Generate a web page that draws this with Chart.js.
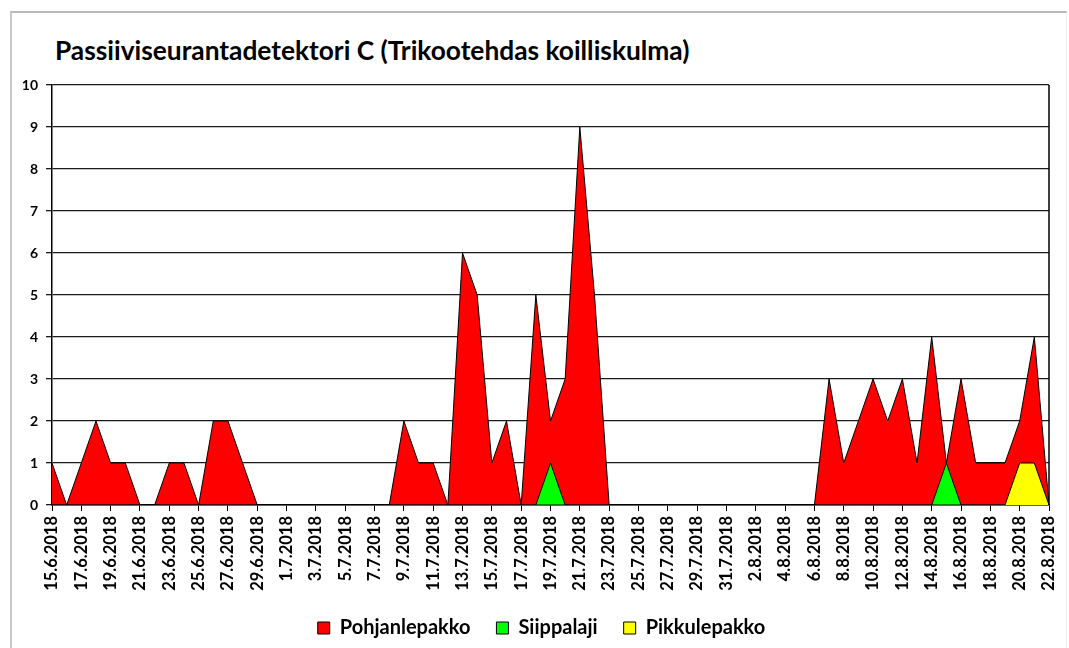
<!DOCTYPE html>
<html lang="fi">
<head>
<meta charset="UTF-8">
<title>Passiiviseurantadetektori C</title>
<script src="https://cdn.jsdelivr.net/npm/chart.js"></script>
<style>
    body { margin: 0; background: #fff; font-family: Lato, sans-serif; }
    #wrap { position: relative; width: 1069px; height: 648px; overflow: hidden; }
    #frame {
        position: absolute; left: 10px; top: 11px; right: 2px; bottom: -5px;
        border-left: 2px solid #c9c9c9; border-top: 2px solid #b8b8b8; border-right: 1px solid #eee;
    }
    #title {
        position: absolute; left: 55px; top: 34px;
        font: bold 26.3px Lato, sans-serif; color: #000; white-space: nowrap;
    }
    canvas { position: absolute; left: 0; top: 0; }
</style>
</head>
<body>
<div id="wrap">
    <div id="frame"></div>
    <div id="title">Passiiviseurantadetektori C (Trikootehdas koilliskulma)</div>
    <canvas id="graph" width="1069" height="648"></canvas>
</div>
<script>
    const days = [
        '15.6.2018','16.6.2018','17.6.2018','18.6.2018','19.6.2018','20.6.2018','21.6.2018','22.6.2018',
        '23.6.2018','24.6.2018','25.6.2018','26.6.2018','27.6.2018','28.6.2018','29.6.2018','30.6.2018',
        '1.7.2018','2.7.2018','3.7.2018','4.7.2018','5.7.2018','6.7.2018','7.7.2018',
        '8.7.2018','9.7.2018','10.7.2018','11.7.2018','12.7.2018','13.7.2018','14.7.2018','15.7.2018',
        '16.7.2018','17.7.2018','18.7.2018','19.7.2018','20.7.2018','21.7.2018','22.7.2018','23.7.2018',
        '24.7.2018','25.7.2018','26.7.2018','27.7.2018','28.7.2018','29.7.2018','30.7.2018','31.7.2018',
        '1.8.2018','2.8.2018','3.8.2018','4.8.2018','5.8.2018',
        '6.8.2018','7.8.2018','8.8.2018','9.8.2018','10.8.2018','11.8.2018','12.8.2018','13.8.2018',
        '14.8.2018','15.8.2018','16.8.2018','17.8.2018','18.8.2018','19.8.2018','20.8.2018','21.8.2018','22.8.2018'
    ];

    const pohjanlepakko = [
        1,0,1,2,1,1,0,0,1,1,0,2,2,1,0,0,
        0,0,0,0,0,0,0,
        0,2,1,1,0,6,5,1,2,0,5,2,3,9,5,0,
        0,0,0,0,0,0,0,0,0,0,0,0,0,
        0,3,1,2,3,2,3,1,4,1,3,1,1,1,2,4,0
    ];
    const siippalaji = [
        0,0,0,0,0,0,0,0,0,0,0,0,0,0,0,0,
        0,0,0,0,0,0,0,
        0,0,0,0,0,0,0,0,0,0,0,1,0,0,0,0,
        0,0,0,0,0,0,0,0,0,0,0,0,0,
        0,0,0,0,0,0,0,0,0,1,0,0,0,0,0,0,0
    ];
    const pikkulepakko = [
        0,0,0,0,0,0,0,0,0,0,0,0,0,0,0,0,
        0,0,0,0,0,0,0,
        0,0,0,0,0,0,0,0,0,0,0,0,0,0,0,0,
        0,0,0,0,0,0,0,0,0,0,0,0,0,
        0,0,0,0,0,0,0,0,0,0,0,0,0,0,1,1,0
    ];
    const yTicks = [0,1,2,3,4,5,6,7,8,9,10];

    function area(label, data, color, order) {
        return {
            label: label, data: data, order: order,
            backgroundColor: color, borderColor: '#000', borderWidth: 1,
            fill: 'origin', tension: 0, pointRadius: 0, pointHoverRadius: 0
        };
    }

    // right edge of plot box
    const plotEdge = {
        id: 'plotEdge',
        afterDraw(chart) {
            const a = chart.chartArea, c = chart.ctx;
            c.save();
            c.strokeStyle = '#000';
            c.lineWidth = 1.5;
            c.beginPath();
            c.moveTo(a.right, a.top);
            c.lineTo(a.right, a.bottom);
            c.stroke();
            c.restore();
        }
    };

    new Chart(document.getElementById('graph'), {
        type: 'line',
        data: {
            labels: days,
            datasets: [
                area('Pohjanlepakko', pohjanlepakko, '#ff0000', 3),
                area('Siippalaji', siippalaji, '#00ff00', 2),
                area('Pikkulepakko', pikkulepakko, '#ffff00', 1)
            ]
        },
        options: {
            responsive: false,
            animation: false,
            layout: { padding: { left: 18, right: 4, top: 85, bottom: 0 } },
            scales: {
                x: {
                    offset: false,
                    afterBuildTicks: ax => { ax.ticks = ax.ticks.filter((t, i) => i % 2 === 0); },
                    afterFit: ax => { ax.height = 87; ax.paddingRight = 20; },
                    ticks: {
                        autoSkip: false, maxRotation: 90, minRotation: 90,
                        color: '#000', font: { family: 'Lato', weight: 'bold', size: 16.5 }, padding: 5
                    },
                    grid: { drawOnChartArea: false, color: '#000', tickLength: 6 },
                    border: { color: '#000', width: 1.5 }
                },
                y: {
                    min: 0, max: 10,
                    afterBuildTicks: ax => { ax.ticks = yTicks.map(v => ({ value: v })); },
                    afterFit: ax => { ax.width = 34; },
                    ticks: {
                        color: '#000', font: { family: 'Lato', weight: 'bold', size: 14 }, padding: 8
                    },
                    grid: { color: '#1a1a1a', lineWidth: 1.3, tickLength: 6 },
                    border: { color: '#000', width: 1.5 }
                }
            },
            plugins: {
                legend: {
                    position: 'bottom',
                    labels: {
                        color: '#000', boxWidth: 12, boxHeight: 12, padding: 26,
                        font: { family: 'Lato', weight: 'bold', size: 20 },
                        sort: (a, b) => a.datasetIndex - b.datasetIndex
                    }
                },
                tooltip: { enabled: false }
            }
        },
        plugins: [plotEdge]
    });
</script>
</body>
</html>
